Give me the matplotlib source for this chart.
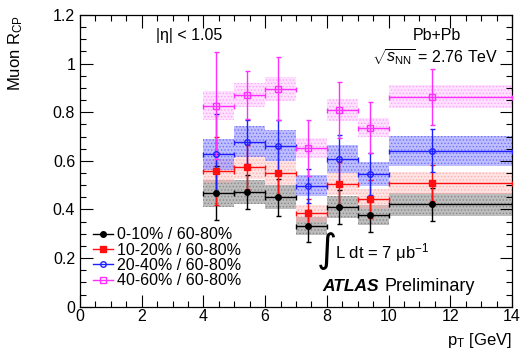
import matplotlib
matplotlib.use('Agg')
import matplotlib.pyplot as plt
from matplotlib.lines import Line2D
import numpy as np

plt.rcParams['font.family'] = ['Liberation Sans', 'DejaVu Sans']
plt.rcParams['mathtext.fontset'] = 'custom'
plt.rcParams['mathtext.rm'] = 'Liberation Sans'
plt.rcParams['mathtext.it'] = 'Liberation Sans:italic'
plt.rcParams['mathtext.bf'] = 'Liberation Sans:bold'
plt.rcParams['hatch.linewidth'] = 0.6

# bins in pT and mean pT of the points
bin_lo = [4, 5, 6, 7, 8, 9, 10]
bin_hi = [5, 6, 7, 8, 9, 10, 14]
pt = [4.4, 5.4, 6.4, 7.4, 8.4, 9.4, 11.4]

r_0_10 = [0.467, 0.471, 0.450, 0.332, 0.409, 0.376, 0.421]
stat_0_10 = [0.11, 0.07, 0.075, 0.065, 0.07, 0.067, 0.068]
sys_0_10 = [0.055, 0.05, 0.05, 0.038, 0.045, 0.041, 0.048]

r_10_20 = [0.557, 0.576, 0.551, 0.384, 0.505, 0.443, 0.508]
stat_10_20 = [0.14, 0.09, 0.10, 0.06, 0.09, 0.08, 0.075]
sys_10_20 = [0.05, 0.05, 0.05, 0.035, 0.045, 0.04, 0.045]

r_20_40 = [0.627, 0.679, 0.663, 0.497, 0.608, 0.546, 0.642]
stat_20_40 = [0.165, 0.09, 0.105, 0.07, 0.10, 0.085, 0.09]
sys_20_40 = [0.063, 0.065, 0.062, 0.043, 0.057, 0.048, 0.062]

r_40_60 = [0.826, 0.871, 0.896, 0.652, 0.810, 0.737, 0.864]
stat_40_60 = [0.22, 0.10, 0.13, 0.115, 0.115, 0.105, 0.115]
sys_40_60 = [0.06, 0.048, 0.048, 0.04, 0.045, 0.039, 0.048]

labels = ['0-10% / 60-80%', '10-20% / 60-80%', '20-40% / 60-80%', '40-60% / 60-80%']

fig = plt.figure(figsize=(5.23, 3.57), dpi=100)
ax = fig.add_axes([0.153, 0.141, 0.826, 0.817])

lo = np.array(bin_lo)
hi = np.array(bin_hi)
x = np.array(pt)
xerr = [x - lo, hi - x]

series = [
    (r_0_10, stat_0_10, sys_0_10, 'black', '#888888', 0.55, 'o', 'black'),
    (r_10_20, stat_10_20, sys_10_20, '#ff1010', '#ffb0b0', 0.35, 's', '#ff1010'),
    (r_20_40, stat_20_40, sys_20_40, '#2020ff', '#7070ff', 0.45, 'o', 'none'),
    (r_40_60, stat_40_60, sys_40_60, '#ff30ff', '#ffa0ff', 0.3, 's', 'none'),
]

# systematic boxes
for r, st, sy, c, bc, a, m, fc in series:
    r = np.array(r)
    sy = np.array(sy)
    ax.bar(lo, 2 * sy, bottom=r - sy, width=hi - lo, align='edge',
           color=bc, alpha=a, linewidth=0, zorder=1)
    ax.bar(lo, 2 * sy, bottom=r - sy, width=hi - lo, align='edge',
           facecolor='none', edgecolor=bc, hatch='.....', linewidth=0, zorder=1)

handles = []
for (r, st, sy, c, bc, a, m, fc), lab in zip(series, labels):
    ax.errorbar(x, r, yerr=st, xerr=xerr, fmt=m, color=c, mfc=fc, mec=c,
                ms=4, mew=1.0, elinewidth=1.0, capsize=1.8, capthick=1.0,
                zorder=3)
    handles.append(Line2D([], [], color=c, marker=m, mfc=fc, mec=c, ms=4,
                          mew=1.0, lw=1.0, label=lab))

ax.set_xlim(0, 14)
ax.set_ylim(0, 1.2)
ax.set_xticks(np.arange(0, 15, 2))
ax.set_xticks(np.arange(0, 14.01, 0.5), minor=True)
ax.set_yticks(np.arange(0, 1.21, 0.2))
ax.set_yticks(np.arange(0, 1.201, 0.05), minor=True)
ax.set_yticklabels(['0', '0.2', '0.4', '0.6', '0.8', '1', '1.2'])
ax.tick_params(which='both', direction='in', top=True, right=True, labelsize=11.5)
ax.tick_params(which='major', length=9, width=0.8)
ax.tick_params(which='minor', length=4.5, width=0.8)
ax.tick_params(axis='x', pad=2)
for s in ax.spines.values():
    s.set_linewidth(0.9)

ax.set_xlabel(r'p$_\mathrm{T}$ [GeV]', fontsize=12, loc='right', labelpad=5)
ax.set_ylabel(r'Muon R$_\mathrm{CP}$', fontsize=12, loc='top', labelpad=20)

ax.legend(handles=handles, loc='lower left', bbox_to_anchor=(0.005, 0.025),
          frameon=False, fontsize=11.5, handlelength=1.2, handletextpad=0.3,
          labelspacing=0.02, borderpad=0.2)

ax.text(0.175, 0.93, '|η| < 1.05', transform=ax.transAxes, fontsize=11.5, va='center')
ax.text(0.77, 0.93, 'Pb+Pb', transform=ax.transAxes, fontsize=11.5, va='center')
ax.text(0.675, 0.855, r'$\sqrt{s_\mathrm{NN}}$ = 2.76 TeV', transform=ax.transAxes,
        fontsize=11.5, va='center')
ax.text(0.548, 0.19, '∫', transform=ax.transAxes, fontsize=28, va='center',
        family='DejaVu Sans')
ax.text(0.59, 0.185, r'L dt = 7 μb$^\mathrm{-1}$', transform=ax.transAxes,
        fontsize=12, va='center')
ax.text(0.56, 0.07, 'ATLAS', transform=ax.transAxes, fontsize=12.5, va='center',
        fontweight='bold', fontstyle='italic')
ax.text(0.705, 0.07, 'Preliminary', transform=ax.transAxes, fontsize=13, va='center')

fig.savefig('out.png', dpi=100)
